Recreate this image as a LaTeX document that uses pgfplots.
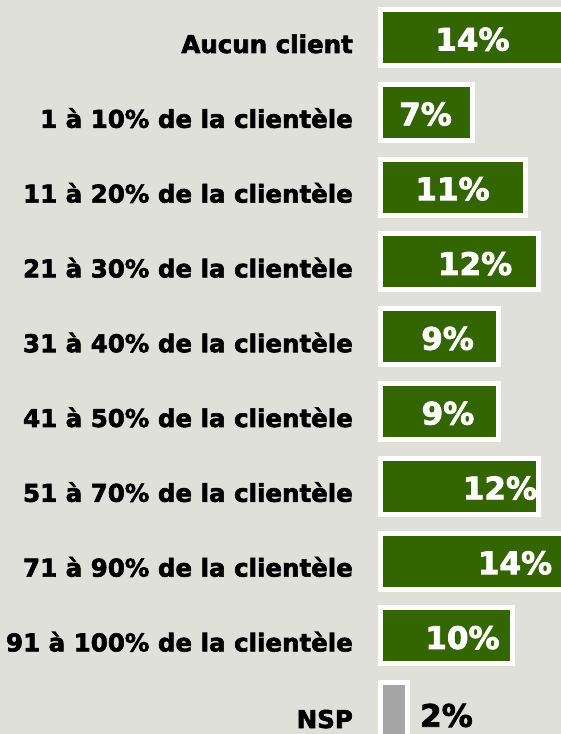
\documentclass[border=0pt]{standalone}
\usepackage{pgfplots}
\pgfplotsset{compat=1.18}
\usepackage{fontspec}
\setmainfont{DejaVu Sans}[BoldFeatures={FakeBold=2.5}]
\definecolor{bg}{RGB}{224,224,219}
\definecolor{bargreen}{RGB}{51,102,0}
\definecolor{bargray}{RGB}{166,166,166}
\begin{document}
\begin{tikzpicture}
\fill[bg] (0,0) rectangle (561bp,734bp);
\begin{axis}[
  at={(376bp,0bp)}, anchor=south west,
  scale only axis, width=185bp, height=734bp,
  xmin=-0.38, xmax=13.74,
  ymin=0.4987, ymax=10.311, y dir=reverse,
  axis line style={draw=none}, ticks=none,
  xbar, bar width=56bp, bar shift=0pt,
  clip=true,
]
\addplot[fill=bargreen, draw=white, line width=5bp] coordinates {
  (14,1) (7,2) (11,3) (12,4) (9,5) (9,6) (12,7) (14,8) (10,9)};
\addplot[fill=bargray, draw=white, line width=5bp] coordinates {(2,10)};
\begin{scope}[every node/.style={font=\fontsize{31bp}{36bp}\selectfont\bfseries, text=white, anchor=base, inner sep=0pt}]
\node[yshift=-13bp] at (axis cs:6.98,1) {14\%};
\node[yshift=-13bp] at (axis cs:3.40,2) {7\%};
\node[yshift=-13bp] at (axis cs:5.46,3) {11\%};
\node[yshift=-13bp] at (axis cs:7.18,4) {12\%};
\node[yshift=-13bp] at (axis cs:5.08,5) {9\%};
\node[yshift=-13bp] at (axis cs:5.11,6) {9\%};
\node[yshift=-13bp] at (axis cs:9.08,7) {12\%};
\node[yshift=-13bp] at (axis cs:10.23,8) {14\%};
\node[yshift=-13bp] at (axis cs:6.22,9) {10\%};
\node[yshift=-16bp, text=black] at (axis cs:5.0,10) {2\%};
\end{scope}
\end{axis}
\begin{scope}[every node/.style={font=\fontsize{24.5bp}{30bp}\selectfont\bfseries, anchor=base east, inner sep=0pt}]
\foreach \lab [count=\i] in {Aucun client, 1 à 10\% de la clientèle, 11 à 20\% de la clientèle, 21 à 30\% de la clientèle, 31 à 40\% de la clientèle, 41 à 50\% de la clientèle, 51 à 70\% de la clientèle, 71 à 90\% de la clientèle, 91 à 100\% de la clientèle}{
  \pgfmathsetmacro{\yy}{734-(37.5+(\i-1)*74.8)-15.5}
  \node at (353bp,\yy bp) {\lab};
}
\node at (353bp,6bp) {NSP};
\end{scope}
\end{tikzpicture}
\end{document}
